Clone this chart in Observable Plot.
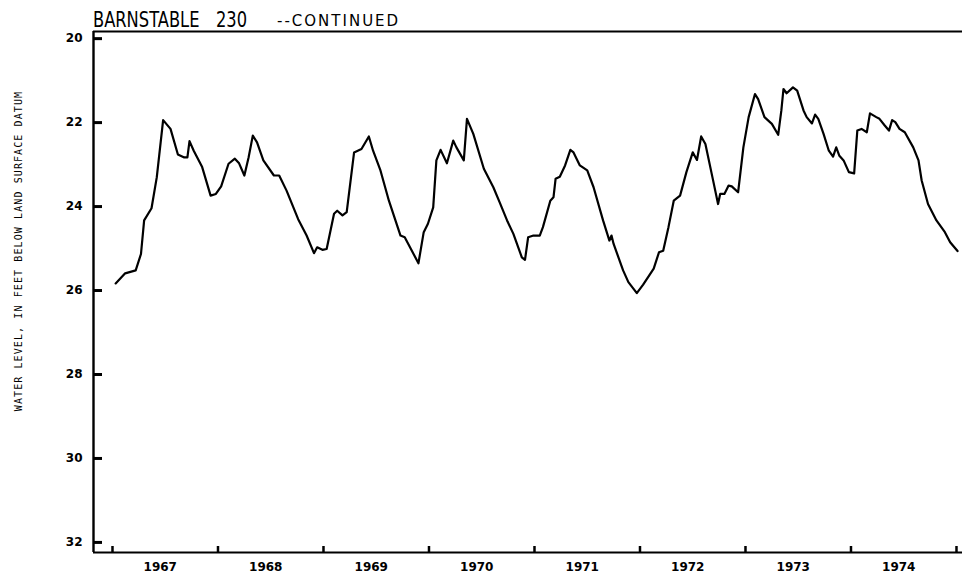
<!DOCTYPE html>
<html>
<head>
<meta charset="utf-8">
<script src="https://cdn.jsdelivr.net/npm/d3@7"></script>
<script src="https://cdn.jsdelivr.net/npm/@observablehq/plot@0.6"></script>
<style>
  html, body { margin: 0; padding: 0; background: #fff; }
  #wrap { width: 962px; height: 578px; position: relative; overflow: hidden; }
  #title { position: relative; height: 29px; width: 962px; }
  #title span { position: absolute; white-space: pre; line-height: 1; color: #000; }
  .t1 { font-family: "DejaVu Sans", sans-serif; font-size: 22px; top: 9px; transform: scaleX(0.74); transform-origin: 0 0; }
  .t2 { font-family: "DejaVu Sans", sans-serif; font-size: 15px; top: 14px; letter-spacing: 2px; }
  svg { display: block; }
</style>
</head>
<body>
<div id="wrap">
  <div id="title">
    <span class="t1" style="left:93px">BARNSTABLE</span>
    <span class="t1" style="left:216px">230</span>
    <span class="t2" style="left:277px">--CONTINUED</span>
  </div>
  <div id="chart"></div>
</div>
<script>
// Observation dates (decimal years) and water level (feet below land surface datum)
const years = [
  1967.03, 1967.12, 1967.22, 1967.27, 1967.30, 1967.37, 1967.42, 1967.48, 1967.55, 1967.62,
  1967.68, 1967.71, 1967.73, 1967.77, 1967.85, 1967.93, 1967.98, 1968.03, 1968.10, 1968.16,
  1968.20, 1968.25, 1968.29, 1968.33, 1968.37, 1968.43, 1968.53, 1968.58, 1968.65, 1968.76,
  1968.84, 1968.91, 1968.94, 1968.99, 1969.03, 1969.10, 1969.13, 1969.18, 1969.22, 1969.29,
  1969.36, 1969.43, 1969.47, 1969.54, 1969.62, 1969.73, 1969.77, 1969.90, 1969.95, 1969.99,
  1970.04, 1970.07, 1970.11, 1970.17, 1970.23, 1970.26, 1970.33, 1970.36, 1970.42, 1970.52,
  1970.61, 1970.67, 1970.74, 1970.80, 1970.88, 1970.91, 1970.94, 1970.99, 1971.05, 1971.08,
  1971.15, 1971.18, 1971.20, 1971.24, 1971.29, 1971.34, 1971.37, 1971.43, 1971.50, 1971.56,
  1971.65, 1971.71, 1971.73, 1971.75, 1971.84, 1971.89, 1971.97, 1972.03, 1972.13, 1972.18,
  1972.22, 1972.27, 1972.32, 1972.38, 1972.44, 1972.50, 1972.54, 1972.58, 1972.62, 1972.69,
  1972.74, 1972.76, 1972.80, 1972.84, 1972.87, 1972.93, 1972.98, 1973.03, 1973.09, 1973.12,
  1973.18, 1973.25, 1973.31, 1973.34, 1973.36, 1973.39, 1973.45, 1973.49, 1973.55, 1973.58,
  1973.63, 1973.66, 1973.69, 1973.74, 1973.79, 1973.83, 1973.86, 1973.89, 1973.93, 1973.98,
  1974.03, 1974.06, 1974.10, 1974.15, 1974.18, 1974.24, 1974.27, 1974.32, 1974.36, 1974.39,
  1974.42, 1974.46, 1974.51, 1974.59, 1974.64, 1974.67, 1974.73, 1974.81, 1974.89, 1974.94,
  1975.01
];
const levels = [
  25.83, 25.59, 25.52, 25.13, 24.33, 24.04, 23.30, 21.94, 22.15, 22.76,
  22.83, 22.83, 22.44, 22.67, 23.06, 23.74, 23.70, 23.52, 22.98, 22.86,
  22.97, 23.26, 22.83, 22.31, 22.47, 22.90, 23.26, 23.26, 23.62, 24.30,
  24.69, 25.11, 24.97, 25.03, 25.01, 24.17, 24.10, 24.21, 24.13, 22.71,
  22.63, 22.33, 22.67, 23.14, 23.86, 24.69, 24.73, 25.35, 24.61, 24.41,
  24.02, 22.90, 22.65, 22.97, 22.43, 22.59, 22.90, 21.91, 22.27, 23.10,
  23.54, 23.90, 24.33, 24.65, 25.21, 25.27, 24.73, 24.69, 24.69, 24.49,
  23.86, 23.78, 23.34, 23.29, 23.02, 22.65, 22.71, 23.02, 23.14, 23.54,
  24.33, 24.81, 24.69, 24.89, 25.52, 25.80, 26.06, 25.86, 25.48, 25.09,
  25.05, 24.49, 23.86, 23.74, 23.18, 22.71, 22.89, 22.33, 22.51, 23.34,
  23.94, 23.70, 23.70, 23.50, 23.52, 23.66, 22.59, 21.87, 21.32, 21.44,
  21.87, 22.03, 22.29, 21.71, 21.20, 21.30, 21.16, 21.24, 21.71, 21.87,
  22.02, 21.81, 21.91, 22.27, 22.67, 22.81, 22.59, 22.79, 22.90, 23.18,
  23.21, 22.19, 22.15, 22.23, 21.78, 21.87, 21.91, 22.07, 22.19, 21.94,
  21.99, 22.15, 22.23, 22.59, 22.90, 23.38, 23.94, 24.33, 24.61, 24.85,
  25.06
];
const yTicks = [20, 22, 24, 26, 28, 30, 32];
const yearBoundaries = [1967, 1968, 1969, 1970, 1971, 1972, 1973, 1974, 1975];
const yearLabels = ["1967", "1968", "1969", "1970", "1971", "1972", "1973", "1974"];
const xDomain = [1966.82, 1975.057];
const yDomain = [32.24, 19.83];
const yLabel = "WATER LEVEL, IN FEET BELOW LAND SURFACE DATUM";

const data = years.map((t, i) => ({t, v: levels[i]}));
const labelPos = yearLabels.map(s => ({t: +s + 0.5, s}));

const plot = Plot.plot({
  width: 962,
  height: 549,
  marginLeft: 93,
  marginRight: 0,
  marginTop: 2,
  marginBottom: 26,
  style: {fontFamily: "'DejaVu Sans', sans-serif", color: "#000", background: "#fff", overflow: "visible"},
  x: {type: "linear", domain: xDomain, label: null},
  y: {type: "linear", domain: yDomain, label: null},
  marks: [
    Plot.ruleY(yDomain, {stroke: "#000", strokeWidth: 2.2}),
    Plot.ruleX([xDomain[0]], {stroke: "#000", strokeWidth: 2.4}),
    Plot.axisY({ticks: yTicks, label: null, tickSize: -9, tickPadding: 20, strokeWidth: 3, fontSize: 12, fontWeight: "bold", tickFormat: d => String(d)}),
    Plot.axisX({ticks: yearBoundaries, label: null, tickSize: -6, strokeWidth: 2.5, tickFormat: () => ""}),
    Plot.text(labelPos, {x: "t", text: "s", frameAnchor: "bottom", dy: 15, dx: -5, fontSize: 12, fontWeight: "bold", lineAnchor: "middle"}),
    Plot.text([yLabel], {frameAnchor: "left", textAnchor: "middle", rotate: -90, dx: -75, dy: -41, fontSize: 10, fontFamily: "'DejaVu Sans Mono', monospace"}),
    Plot.line(data, {x: "t", y: "v", stroke: "#000", strokeWidth: 2.2, strokeLinejoin: "round"})
  ]
});
document.getElementById("chart").appendChild(plot);
d3.select(plot).selectAll("text").filter(function() { return this.textContent === yLabel; })
  .style("letter-spacing", "1.1px");
</script>
</body>
</html>
